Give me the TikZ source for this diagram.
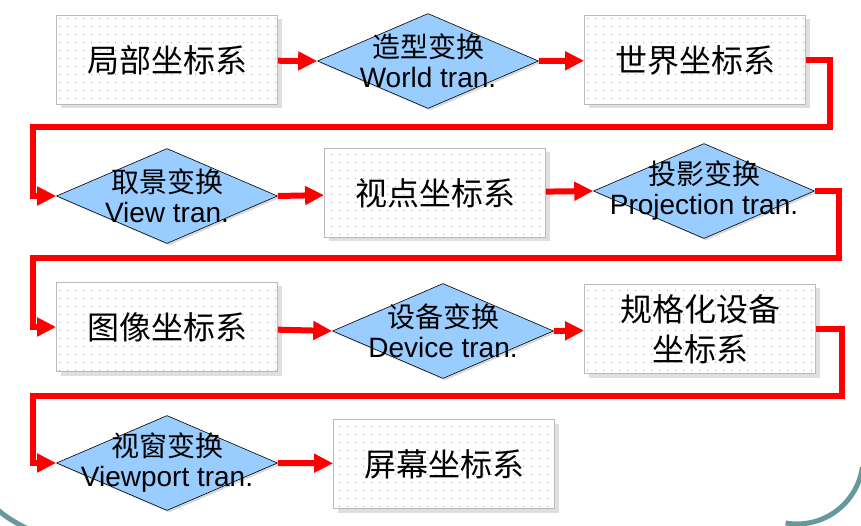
\documentclass[tikz,border=0pt]{standalone}
\usepackage{fontspec}
\setmainfont{Liberation Sans}
\newfontfamily\cjk{Noto Sans CJK SC}
\usetikzlibrary{shapes.geometric, arrows.meta, shadows, patterns}

\definecolor{diablue}{RGB}{153,204,255}
\definecolor{dotblue}{RGB}{125,170,225}
\definecolor{framegreen}{RGB}{102,153,153}

\pgfdeclarepatternformonly{boxdots}{\pgfqpoint{0pt}{0pt}}{\pgfqpoint{8pt}{8pt}}{\pgfqpoint{8pt}{8pt}}{\pgfpathcircle{\pgfqpoint{4pt}{4pt}}{0.7pt}\pgfusepath{fill}}

\begin{document}
\begin{tikzpicture}[x=1pt, y=-1pt,
  box/.style = {draw=gray!55, line width=0.8pt, drop shadow={shadow xshift=4pt, shadow yshift=-4pt, fill=black!25}, preaction={fill=white}, pattern=boxdots, pattern color=dotblue, minimum width=221pt, minimum height=89pt, inner sep=0pt, align=center, font=\cjk\fontsize{32}{40}\selectfont},
  diam/.style = {diamond, draw, line width=0.6pt, fill=diablue, drop shadow={shadow xshift=2pt, shadow yshift=-2pt, fill=black!30}, minimum width=221pt, minimum height=95pt, inner sep=0pt},
  dtext/.style = {align=center, inner sep=0pt, font=\fontsize{28}{30}\selectfont},
  flow/.style = {draw=red, line width=6pt, line join=miter, -{Triangle[length=19pt, width=18pt]}}]
\useasboundingbox (0,0) rectangle (861,526);

% frame corners of the slide
\draw[framegreen, line width=5pt] (797,458) ++(8:66) arc[start angle=8, end angle=100, radius=66];
\draw[framegreen, line width=5pt] (-4,508) .. controls (4,516) and (14,522) .. (30,530);

% row 1
\node[box] (local) at (167,60) {局部坐标系};
\node[diam] (worldtr) at (428,61) {};
\node[dtext] at (worldtr) {{\cjk 造型变换}\\World tran.};
\node[box] (world) at (695,60) {世界坐标系};

% row 2
\node[diam] (viewtr) at (167,196) {};
\node[dtext] at (viewtr) {{\cjk 取景变换}\\View tran.};
\node[box] (viewpt) at (435,193) {视点坐标系};
\node[diam] (projtr) at (704,191) {};
\node[dtext] at (projtr) {{\cjk 投影变换}\\Projection tran.};

% row 3
\node[box] (image) at (167,327) {图像坐标系};
\node[diam] (devtr) at (443,331) {};
\node[dtext] at (devtr) {{\cjk 设备变换}\\Device tran.};
\node[box, minimum width=231pt] (ndc) at (700,329) {规格化设备\\坐标系};

% row 4
\node[diam] (porttr) at (167,463) {};
\node[dtext] at (porttr) {{\cjk 视窗变换}\\Viewport tran.};
\node[box] (screen) at (444,464) {屏幕坐标系};

% turning points
\coordinate (r1) at (830,127);
\coordinate (l1) at (33,127);
\coordinate (r2) at (839,258);
\coordinate (l2) at (33,258);
\coordinate (r3) at (842,396);
\coordinate (l3) at (33,396);

\draw[flow] (local) -- (worldtr.west);
\draw[flow] (worldtr.east) -- (world);
\draw[flow] (world.east) -| (r1) -- (l1) |- (viewtr.west);
\draw[flow] (viewtr.east) -- (viewpt);
\draw[flow] (viewpt) -- (projtr.west);
\draw[flow] (projtr.east) -| (r2) -- (l2) |- (image.west);
\draw[flow] (image) -- (devtr.west);
\draw[flow] (devtr.east) -- (ndc);
\draw[flow] (ndc.east) -| (r3) -- (l3) |- (porttr.west);
\draw[flow] (porttr.east) -- (screen);
\end{tikzpicture}
\end{document}
